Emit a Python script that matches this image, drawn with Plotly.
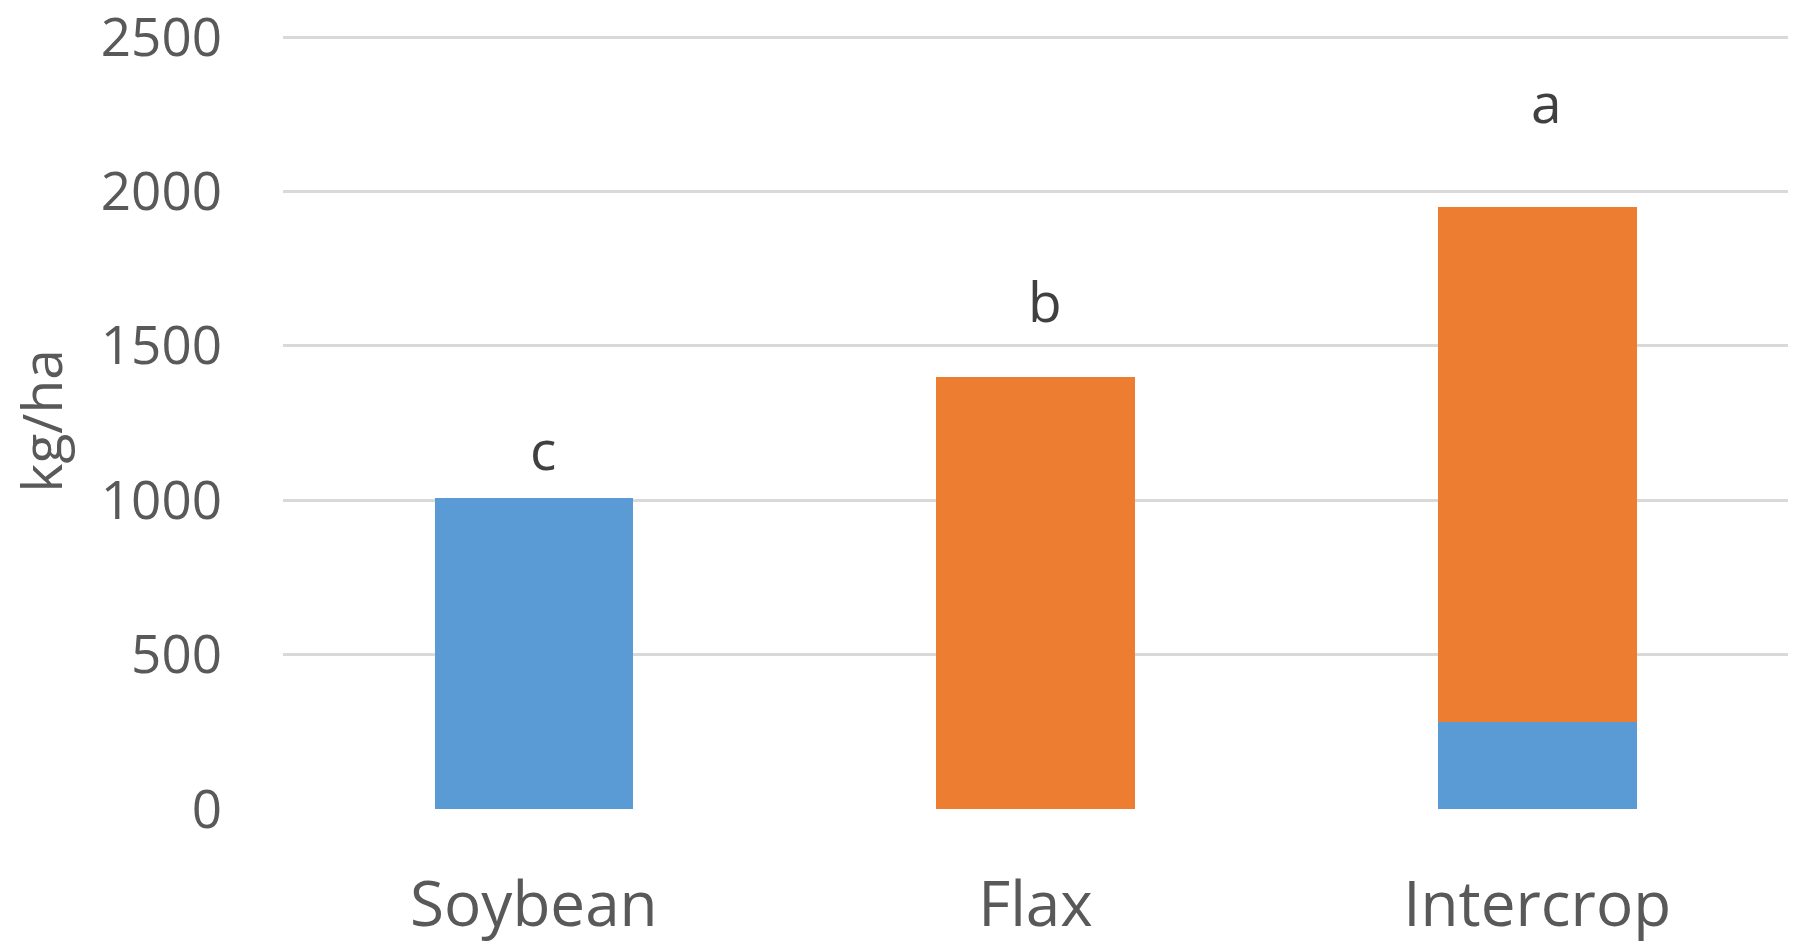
import plotly.graph_objects as go

# Yield by cropping system (kg/ha)
categories = ["Soybean", "Flax", "Intercrop"]
soybean_yield = [1008, 0, 282]
flax_yield = [0, 1400, 1668]
letters = ["c", "b", "a"]
y_ticks = [0, 500, 1000, 1500, 2000, 2500]

BLUE = "#5B9BD5"
ORANGE = "#ED7D31"
GRID = "#D9D9D9"
TEXT = "#595959"

fig = go.Figure()
fig.add_trace(go.Bar(x=categories, y=soybean_yield, name="Soybean",
                     marker=dict(color=BLUE, line=dict(width=0))))
fig.add_trace(go.Bar(x=categories, y=flax_yield, name="Flax",
                     marker=dict(color=ORANGE, line=dict(width=0))))

# significance letters above each bar
letter_y = [1166, 1646, 2293]
for cat, txt, yv in zip(categories, letters, letter_y):
    fig.add_annotation(x=cat, y=yv, text=txt, showarrow=False,
                       xanchor="center", yanchor="middle", xshift=9,
                       font=dict(family="Open Sans", size=55, color="#404040"))

# y-axis title
fig.add_annotation(xref="paper", yref="paper", x=0, y=0.5, xshift=-243,
                   text="kg/ha", textangle=-90, showarrow=False,
                   xanchor="center", yanchor="middle",
                   font=dict(family="Open Sans", size=55, color=TEXT))

fig.update_layout(
    width=1808, height=943,
    margin=dict(l=283, r=20, t=34, b=134),
    barmode="stack", bargap=0.604,
    showlegend=False,
    plot_bgcolor="white", paper_bgcolor="white",
    font=dict(family="Open Sans", color=TEXT),
)
fig.update_xaxes(showgrid=False, showline=False, zeroline=False, ticks="",
                 automargin=False, ticklabeloverflow="allow",
                 tickfont=dict(family="Open Sans", size=62, color=TEXT),
                 ticklabelstandoff=54)
fig.update_yaxes(range=[0, 2510], tickvals=y_ticks, showgrid=True,
                 gridcolor=GRID, gridwidth=3, zeroline=False, showline=False,
                 ticks="", ticklabelstandoff=60, automargin=False,
                 ticklabeloverflow="allow",
                 tickfont=dict(family="Open Sans", size=53, color=TEXT))

fig.write_html("out.html")
